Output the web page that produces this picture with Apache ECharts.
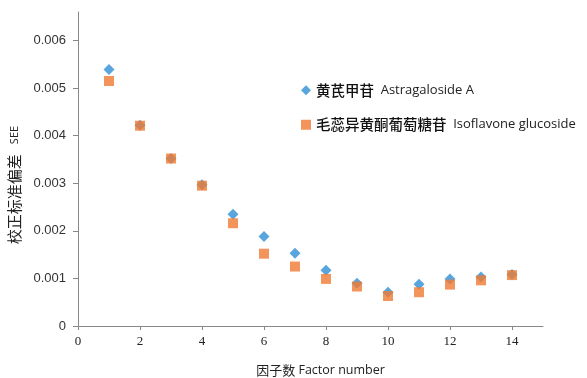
<!DOCTYPE html>
<html><head><meta charset="utf-8">
<script src="https://cdn.jsdelivr.net/npm/echarts@6/dist/echarts.min.js"></script>
<style>html,body{margin:0;padding:0;background:#fff}#c{width:587px;height:378px}</style>
</head><body><div id="c"></div>
<script>
const factors = [1,2,3,4,5,6,7,8,9,10,11,12,13,14];
const astragaloside = [0.00539,0.00422,0.00352,0.00297,0.00235,0.00188,0.00153,0.00117,0.00090,0.00071,0.00088,0.00099,0.00103,0.00108];
const isoflavone = [0.00515,0.00421,0.00352,0.00295,0.00216,0.00152,0.00125,0.00099,0.00083,0.00063,0.00071,0.00087,0.00096,0.00107];
const seriesNames = ['黄芪甲苷 Astragaloside A','毛蕊异黄酮葡萄糖苷 Isoflavone glucoside'];
const xTitle = '因子数 Factor number';
const yTitle = '校正标准偏差 SEE';

const chart = echarts.init(document.getElementById('c'));
function pairs(v){return factors.map((f,i)=>[f,v[i]]);}
function split2(n){const i=n.indexOf(' ');return [n.slice(0,i),n.slice(i+1)];}
chart.setOption({
  animation:false,
  grid:{left:78,right:44,top:12,bottom:52,containLabel:false,outerBoundsMode:'none'},
  legend:{
    orient:'vertical', left:296, top:78, itemGap:20, itemWidth:10, itemHeight:10,
    data:[{name:seriesNames[0],icon:'diamond'},{name:seriesNames[1],icon:'rect'}],
    formatter:function(n){const p=split2(n);return '{c|'+p[0]+'}  {e|'+p[1]+'}';},
    textStyle:{rich:{c:{fontFamily:'Noto Sans CJK SC',fontSize:14.5,fontWeight:500,color:'#111'},e:{fontFamily:'Open Sans',fontSize:13,color:'#222'}}}
  },
  xAxis:{type:'value',min:0,max:15,interval:2,
    name:(function(){const p=split2(xTitle);return '{c|'+p[0]+'} {e|'+p[1]+'}';})(),
    nameLocation:'middle',nameGap:38,
    nameTextStyle:{padding:[0,0,0,20],rich:{c:{fontFamily:'Noto Sans CJK SC',fontSize:13,color:'#222'},e:{fontFamily:'Open Sans',fontSize:12.5,color:'#222'}}},
    axisLine:{lineStyle:{color:'#888'}},axisTick:{lineStyle:{color:'#888'},length:4},
    axisLabel:{showMaxLabel:false,fontFamily:'Liberation Serif',fontSize:13,color:'#222',margin:9},
    splitLine:{show:false}},
  yAxis:{type:'value',min:0,max:0.0066,interval:0.001,
    name:(function(){const p=split2(yTitle);return '{c|'+p[0]+'}   {e|'+p[1]+'}';})(),
    nameLocation:'middle',nameGap:56,
    nameTextStyle:{padding:[0,32,0,0],rich:{c:{fontFamily:'Noto Sans CJK SC',fontSize:15,color:'#222'},e:{fontFamily:'Open Sans',fontSize:11,color:'#222'}}},
    axisLine:{show:true,lineStyle:{color:'#888'}},axisTick:{show:true,lineStyle:{color:'#888'},length:5},
    axisLabel:{showMaxLabel:false,fontFamily:'Liberation Sans',fontSize:13,color:'#333',margin:12,
      formatter:v=>v===0?'0':v.toFixed(3)},
    splitLine:{show:false}},
  series:[
    {name:seriesNames[0],type:'scatter',symbol:'diamond',symbolSize:11,data:pairs(astragaloside),itemStyle:{color:'#2f8fd4'}},
    {name:seriesNames[1],type:'scatter',symbol:'rect',symbolSize:10,data:pairs(isoflavone),itemStyle:{color:'#f07a32'}}
  ]
});
</script></body></html>
